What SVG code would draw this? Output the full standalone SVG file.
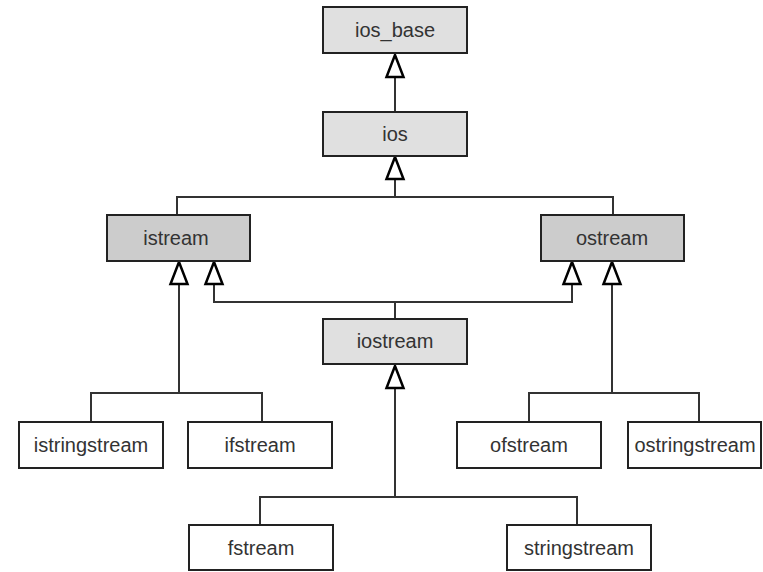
<svg xmlns="http://www.w3.org/2000/svg" width="763" height="572" viewBox="0 0 763 572">
  <style>
    .box { stroke: #222; stroke-width: 2; }
    .base { fill: #e0e0e0; }
    .mid { fill: #cccccc; }
    .leaf { fill: #ffffff; }
    .lbl { font-family: "Liberation Sans", Arial, sans-serif; font-size: 20px; fill: #333; text-anchor: middle; }
    .wire { fill: none; stroke: #333; stroke-width: 2; }
    .inh { fill: none; stroke: #333; stroke-width: 2; marker-end: url(#hollow); }
  </style>
  <defs>
    <!-- open inheritance triangle, tip at the end of the line -->
    <marker id="hollow" markerUnits="userSpaceOnUse" markerWidth="30" markerHeight="30" refX="0" refY="0" orient="auto" viewBox="-26 -12 30 24" overflow="visible">
      <path d="M0,0 L-22,-8.5 L-22,8.5 Z" fill="#fff" stroke="#000" stroke-width="2.5" stroke-linejoin="miter"/>
    </marker>
  </defs>

  <g id="connectors">
    <!-- ios -> ios_base -->
    <path class="inh" d="M395,112 L395,55"/>
    <!-- istream, ostream -> ios -->
    <path class="inh" d="M395,197 L395,157"/>
    <path class="wire" d="M177,215 L177,197 L613,197 L613,215"/>
    <!-- istringstream, ifstream -> istream -->
    <path class="inh" d="M179,393 L179,262"/>
    <path class="wire" d="M91,422 L91,393 L262,393 L262,422"/>
    <!-- iostream -> istream, ostream -->
    <path class="inh" d="M395,302 L214,302 L214,262"/>
    <path class="inh" d="M395,302 L572,302 L572,262"/>
    <path class="wire" d="M395,302 L395,319"/>
    <!-- ofstream, ostringstream -> ostream -->
    <path class="inh" d="M612,393 L612,262"/>
    <path class="wire" d="M529,422 L529,393 L699,393 L699,422"/>
    <!-- fstream, stringstream -> iostream -->
    <path class="inh" d="M395,497 L395,366"/>
    <path class="wire" d="M260,525 L260,497 L577,497 L577,525"/>
  </g>

  <g id="ios_base">
    <rect class="box base" x="323" y="7" width="144" height="46"/>
    <text class="lbl" x="395" y="37">ios_base</text>
  </g>
  <g id="ios">
    <rect class="box base" x="323" y="112" width="144" height="44"/>
    <text class="lbl" x="395" y="141">ios</text>
  </g>
  <g id="istream">
    <rect class="box mid" x="107" y="215" width="143" height="46"/>
    <text class="lbl" x="176" y="245">istream</text>
  </g>
  <g id="ostream">
    <rect class="box mid" x="541" y="215" width="143" height="46"/>
    <text class="lbl" x="612" y="245">ostream</text>
  </g>
  <g id="iostream">
    <rect class="box base" x="323" y="319" width="144" height="45"/>
    <text class="lbl" x="395" y="348">iostream</text>
  </g>
  <g id="istringstream">
    <rect class="box leaf" x="19" y="422" width="144" height="46"/>
    <text class="lbl" x="91" y="452">istringstream</text>
  </g>
  <g id="ifstream">
    <rect class="box leaf" x="188" y="422" width="144" height="46"/>
    <text class="lbl" x="260" y="452">ifstream</text>
  </g>
  <g id="ofstream">
    <rect class="box leaf" x="457" y="422" width="144" height="46"/>
    <text class="lbl" x="529" y="452">ofstream</text>
  </g>
  <g id="ostringstream">
    <rect class="box leaf" x="628" y="422" width="133" height="46"/>
    <text class="lbl" x="695" y="452">ostringstream</text>
  </g>
  <g id="fstream">
    <rect class="box leaf" x="189" y="525" width="144" height="45"/>
    <text class="lbl" x="261" y="555">fstream</text>
  </g>
  <g id="stringstream">
    <rect class="box leaf" x="507" y="525" width="144" height="45"/>
    <text class="lbl" x="579" y="555">stringstream</text>
  </g>
</svg>
